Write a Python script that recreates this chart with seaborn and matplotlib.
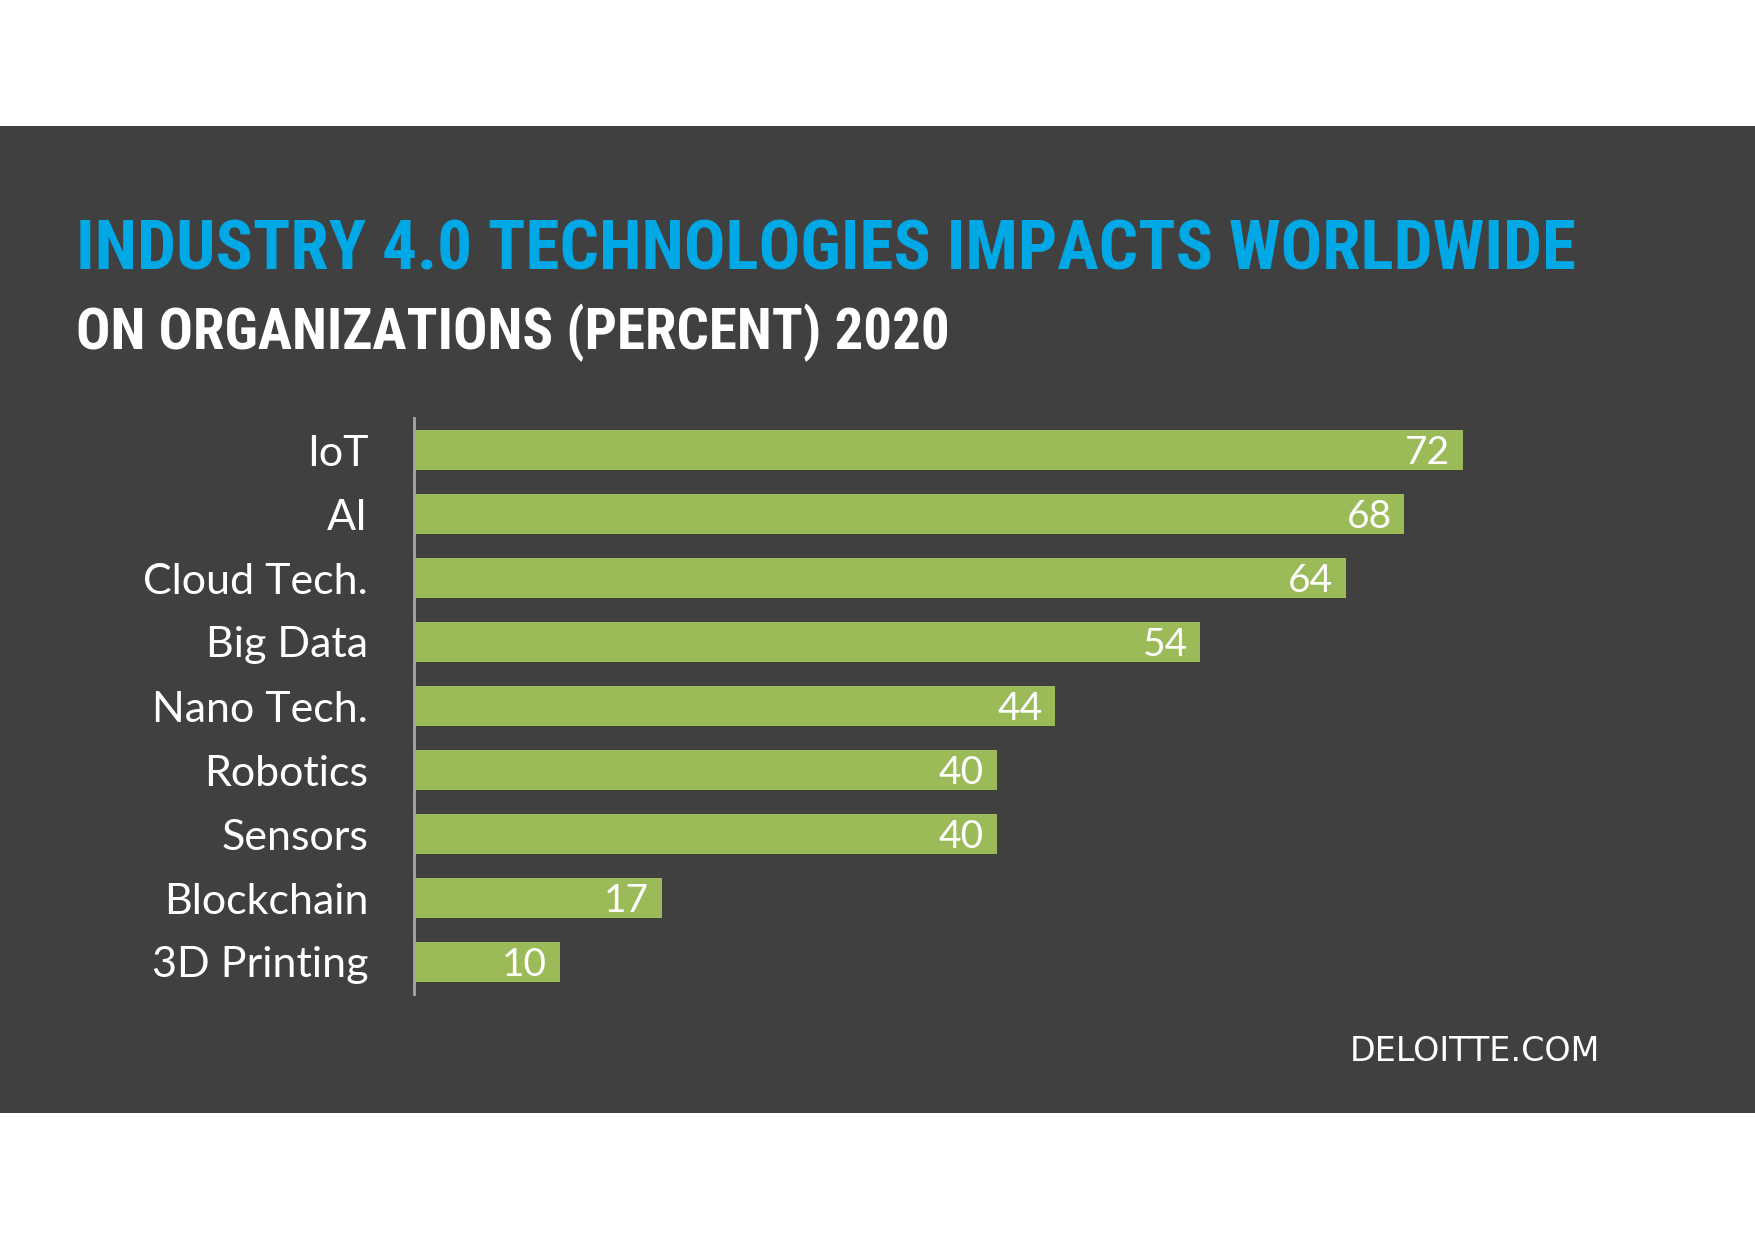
import matplotlib
matplotlib.use("Agg")
import matplotlib.pyplot as plt
import matplotlib.font_manager as fm
import seaborn as sns
import pandas as pd

# data
technologies = ["IoT", "AI", "Cloud Tech.", "Big Data", "Nano Tech.",
                "Robotics", "Sensors", "Blockchain", "3D Printing"]
impact_pct = [72, 68, 64, 54, 44, 40, 40, 17, 10]

title_1 = "INDUSTRY 4.0 TECHNOLOGIES IMPACTS WORLDWIDE"
title_2 = "ON ORGANIZATIONS (PERCENT) 2020"
source = "DELOITTE.COM"

BG = "#404040"
GREEN = "#9BBB59"
BLUE = "#00A9E6"
AXIS_GREY = "#A6A6A6"

installed = {f.name for f in fm.fontManager.ttflist}


def pick(*names):
    for n in names:
        if n in installed:
            return n
    return "DejaVu Sans"


title_font = pick("Liberation Sans Narrow", "DejaVu Sans Condensed", "Roboto Condensed", "DejaVu Sans")
label_font = pick("Lato", "Open Sans", "Noto Sans")
src_font = pick("DejaVu Sans")

df = pd.DataFrame({"tech": technologies, "pct": impact_pct})

sns.set_theme(style="white")
W, H = 1755, 1241
fig = plt.figure(figsize=(W / 100, H / 100), dpi=100, facecolor="white")

# dark band behind everything
fig.patches.append(plt.Rectangle((0, 1 - 1113 / H), 1, (1113 - 126) / H,
                                 transform=fig.transFigure, facecolor=BG,
                                 edgecolor="none", zorder=-10))

ax = fig.add_axes([414 / W, 1 - 994 / H, 1165 / W, 576 / H])
ax.set_facecolor("none")
sns.barplot(data=df, y="tech", x="pct", orient="h", color=GREEN,
            width=0.625, saturation=1, linewidth=0, ax=ax)
ax.set_xlim(0, 80)
ax.set_xlabel("")
ax.set_ylabel("")
ax.set_xticks([])
for s in ["top", "right", "bottom"]:
    ax.spines[s].set_visible(False)
ax.spines["left"].set_color(AXIS_GREY)
ax.spines["left"].set_linewidth(2)
ax.tick_params(axis="y", length=0, pad=33, labelsize=31, labelcolor="white")
for lbl in ax.get_yticklabels():
    lbl.set_fontfamily(label_font)

for i, v in enumerate(impact_pct):
    ax.annotate(str(v), xy=(v, i), xytext=(-9, 0), textcoords="offset points",
                ha="right", va="center_baseline", color="white", fontsize=28,
                family=label_font)

t1 = fig.text(76 / W, 1 - 269 / H, title_1, color=BLUE, fontsize=50,
              fontweight="bold", family=title_font, va="baseline")
t2 = fig.text(76 / W, 1 - 349 / H, title_2, color="white", fontsize=42,
              fontweight="bold", family=title_font, va="baseline")
fig.text(1600 / W, 1 - 1061 / H, source, color="white", fontsize=24,
         family=src_font, ha="right", va="baseline")

# fit the title lines to the width they take in the original
fig.canvas.draw()
r = fig.canvas.get_renderer()
for t, target in [(t1, 1502), (t2, 875)]:
    w = t.get_window_extent(r).width
    t.set_fontsize(t.get_fontsize() * target / w)

fig.savefig("out.png", dpi=100, facecolor="white")
